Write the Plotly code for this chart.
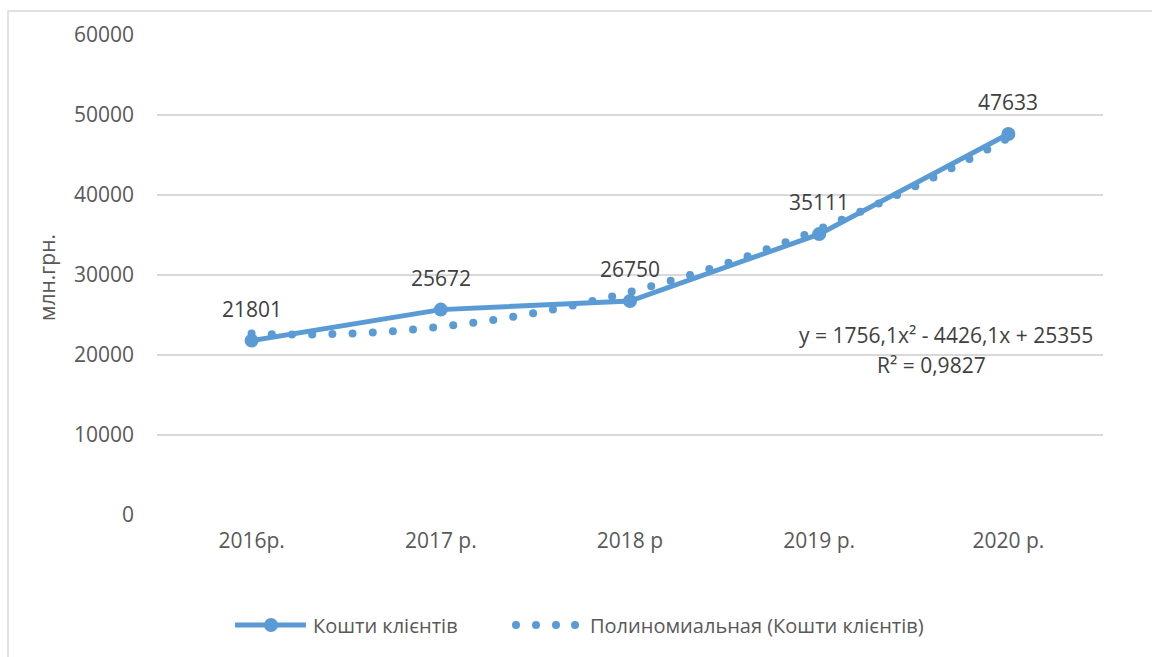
import numpy as np
import plotly.graph_objects as go

categories = ["2016р.", "2017 р.", "2018 р", "2019 р.", "2020 р."]
values = [21801, 25672, 26750, 35111, 47633]
y_ticks = [0, 10000, 20000, 30000, 40000, 50000, 60000]
series_name = "Кошти клієнтів"
trend_name = "Полиномиальная (Кошти клієнтів)"
y_title = "млн.грн."

BLUE = "#5B9BD5"
GRID = "#D9D9D9"
FONT = "Open Sans"

W, H = 1152, 657
ML, MR, MT, MB = 157, 49, 35, 142
PW, PH = W - ML - MR, H - MT - MB
YMAX = 60000

# Polynomial trend (Excel-style, x = 1..n)
xs = np.arange(1, len(values) + 1)
coef = np.polyfit(xs, values, 2)
fit = np.polyval(coef, xs)
r2 = 1 - np.sum((np.array(values) - fit) ** 2) / np.sum((np.array(values) - np.mean(values)) ** 2)

# round dots along the trend, evenly spaced in screen pixels
xpix = PW / len(categories)
ypix = PH / YMAX
t = np.linspace(1, len(values), 4001)
ft = np.polyval(coef, t)
s = np.concatenate([[0], np.cumsum(np.hypot(np.diff(t) * xpix, np.diff(ft) * ypix))])
targets = np.arange(0, s[-1] + 1e-6, 20.2)
tt = np.interp(targets, s, t)
trend_x = tt - 1
trend_y = np.polyval(coef, tt)

fig = go.Figure()
fig.add_trace(go.Scatter(
    x=list(range(len(categories))), y=values, mode="lines+markers",
    line=dict(color=BLUE, width=5), marker=dict(color=BLUE, size=14),
    name=series_name, showlegend=False, hoverinfo="skip"))
fig.add_trace(go.Scatter(
    x=trend_x, y=trend_y, mode="markers",
    marker=dict(color=BLUE, size=8), name=trend_name, showlegend=False,
    hoverinfo="skip"))

annotations = []
for i, v in enumerate(values):
    annotations.append(dict(x=i, y=v, xref="x", yref="y", text=str(v), showarrow=False,
                            yshift=32, font=dict(family=FONT, size=21, color="#404040")))

def fmt(v, d):
    return f"{v:.{d}f}".replace(".", ",")

eq = f"y = {fmt(coef[0],1)}x² - {fmt(abs(coef[1]),1)}x + {fmt(coef[2],0)}"
r2t = f"R² = {fmt(r2,4)}"

def px2x(px):
    return (px - ML) / PW

def py2y(py):
    return (H - MB - py) / PH

annotations.append(dict(x=px2x(946), y=py2y(335), xref="paper", yref="paper", text=eq,
                        showarrow=False, xanchor="center", yanchor="middle",
                        font=dict(family=FONT, size=21, color="#404040")))
annotations.append(dict(x=px2x(931), y=py2y(365), xref="paper", yref="paper", text=r2t,
                        showarrow=False, xanchor="center", yanchor="middle",
                        font=dict(family=FONT, size=21, color="#404040")))
annotations.append(dict(x=px2x(47), y=py2y(278), xref="paper", yref="paper", text=y_title,
                        showarrow=False, textangle=-90, xanchor="center", yanchor="middle",
                        font=dict(family=FONT, size=21, color="#595959")))

# manual legend
LY = 625
annotations.append(dict(x=px2x(311), y=py2y(LY), xref="paper", yref="paper", text=series_name,
                        showarrow=False, xanchor="left", yanchor="middle",
                        font=dict(family=FONT, size=20, color="#595959")))
annotations.append(dict(x=px2x(588), y=py2y(LY), xref="paper", yref="paper", text=trend_name,
                        showarrow=False, xanchor="left", yanchor="middle",
                        font=dict(family=FONT, size=20, color="#595959")))

shapes = [
    dict(type="rect", xref="paper", yref="paper", x0=px2x(8), x1=px2x(1170),
         y0=py2y(680), y1=py2y(11), line=dict(color=GRID, width=1.5), layer="below"),
    dict(type="line", xref="paper", yref="paper", x0=px2x(235), x1=px2x(306),
         y0=py2y(LY), y1=py2y(LY), line=dict(color=BLUE, width=5)),
    dict(type="circle", xref="paper", yref="paper", xsizemode="pixel", ysizemode="pixel",
         xanchor=px2x(271), yanchor=py2y(LY), x0=-7, x1=7, y0=-7, y1=7,
         fillcolor=BLUE, line=dict(width=0)),
]
for cx in [516, 536, 556, 575]:
    shapes.append(dict(type="circle", xref="paper", yref="paper", xsizemode="pixel",
                       ysizemode="pixel", xanchor=px2x(cx), yanchor=py2y(LY),
                       x0=-4, x1=4, y0=-4, y1=4, fillcolor=BLUE, line=dict(width=0)))

fig.update_layout(
    width=W, height=H, margin=dict(l=ML, r=MR, t=MT, b=MB),
    paper_bgcolor="white", plot_bgcolor="white",
    annotations=annotations, shapes=shapes, showlegend=False,
    font=dict(family=FONT, size=21, color="#595959"),
)
fig.update_xaxes(range=[-0.5, len(categories) - 0.5], tickvals=list(range(len(categories))),
                 ticktext=categories, showgrid=False, zeroline=False, showline=False,
                 ticks="", ticklabelstandoff=11, tickfont=dict(family=FONT, size=21, color="#595959"))
fig.update_yaxes(range=[0, YMAX], tickvals=y_ticks, ticktext=[str(v) for v in y_ticks],
                 showgrid=True, gridcolor=GRID, gridwidth=1.5,
                 zeroline=False, showline=False, ticks="", ticklabelstandoff=22,
                 tickfont=dict(family=FONT, size=21, color="#595959"))

fig.write_html("out.html")
